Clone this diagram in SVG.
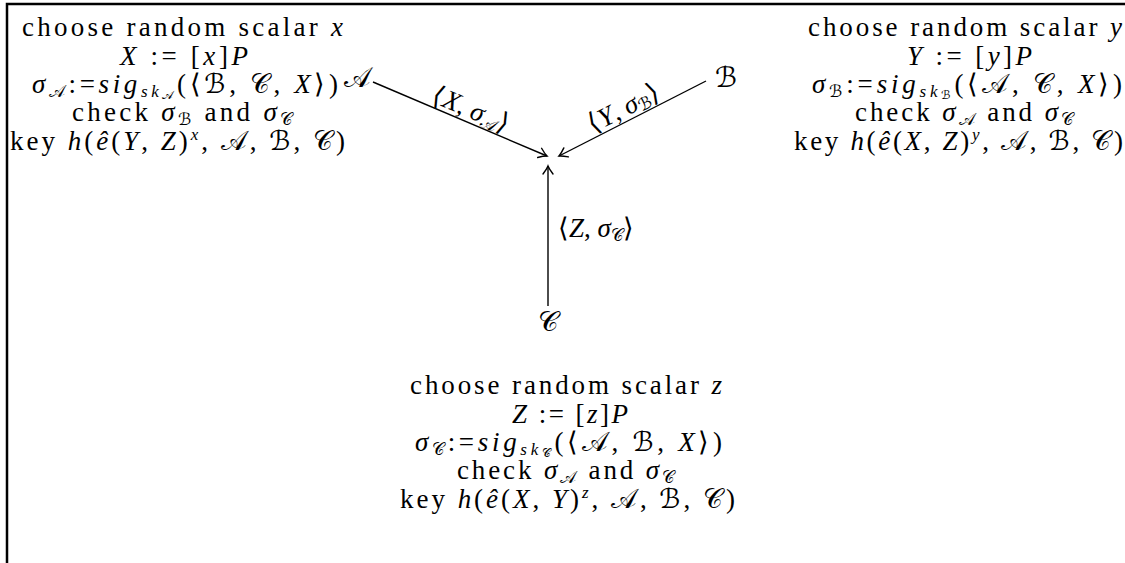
<svg xmlns="http://www.w3.org/2000/svg" width="1125" height="563" viewBox="0 0 1125 563">
<style>
text{font-family:"Liberation Serif","Times New Roman",serif;font-size:27px;fill:#000}
.i{font-style:italic}
.cal{font-family:"DejaVu Serif","DejaVu Sans","Noto Sans",serif;font-style:normal}
.sub{font-size:17px}
.ssub{font-size:12px}
.node{font-size:28px}
.conn line{stroke:#000;stroke-width:1.4;fill:none}
.frame{stroke:#000;stroke-width:2.5;fill:none}
</style>
<defs>
<marker id="ah" markerUnits="userSpaceOnUse" markerWidth="20" markerHeight="20" refX="0" refY="0" viewBox="-10 -10 20 20" orient="auto" overflow="visible">
<path d="M-8,-5 Q-3,-1.2 0,0 Q-3,1.2 -8,5" fill="none" stroke="#000" stroke-width="1.4" stroke-linecap="round"/>
</marker>
</defs>
<rect width="1125" height="563" fill="#fff"/>
<path class="frame" d="M7,563 V4 H1125"/>

<g id="infoA">
<text x="22" y="36" textLength="321">choose random scalar <tspan class="i">x</tspan></text>
<text x="120" y="65" textLength="128"><tspan class="i">X</tspan> := [<tspan class="i">x</tspan>]<tspan class="i">P</tspan></text>
<text x="32" y="93" textLength="306"><tspan class="i">σ</tspan><tspan class="sub cal" dy="4">𝒜</tspan><tspan dy="-4">:=</tspan><tspan class="i">sig</tspan><tspan class="sub i" dy="4">sk</tspan><tspan class="ssub cal" dy="2">𝒜</tspan><tspan dy="-6">(⟨</tspan><tspan class="cal">ℬ</tspan>, <tspan class="cal">𝒞</tspan>, <tspan class="i">X</tspan>⟩)</text>
<text x="72" y="121" textLength="220">check <tspan class="i">σ</tspan><tspan class="sub cal" dy="4">ℬ</tspan><tspan dy="-4"> and </tspan><tspan class="i">σ</tspan><tspan class="sub cal" dy="4">𝒞</tspan></text>
<text x="10" y="150" textLength="335">key <tspan class="i">h</tspan>(<tspan class="i">ê</tspan>(<tspan class="i">Y</tspan>, <tspan class="i">Z</tspan>)<tspan class="sub i" dy="-10">x</tspan><tspan dy="10">, </tspan><tspan class="cal">𝒜</tspan>, <tspan class="cal">ℬ</tspan>, <tspan class="cal">𝒞</tspan>)</text>
</g>

<g id="infoB">
<text x="808" y="36" textLength="314">choose random scalar <tspan class="i">y</tspan></text>
<text x="907" y="65" textLength="125"><tspan class="i">Y</tspan> := [<tspan class="i">y</tspan>]<tspan class="i">P</tspan></text>
<text x="812" y="93" textLength="310"><tspan class="i">σ</tspan><tspan class="sub cal" dy="4">ℬ</tspan><tspan dy="-4">:=</tspan><tspan class="i">sig</tspan><tspan class="sub i" dy="4">sk</tspan><tspan class="ssub cal" dy="2">ℬ</tspan><tspan dy="-6">(⟨</tspan><tspan class="cal">𝒜</tspan>, <tspan class="cal">𝒞</tspan>, <tspan class="i">X</tspan>⟩)</text>
<text x="855" y="121" textLength="218">check <tspan class="i">σ</tspan><tspan class="sub cal" dy="4">𝒜</tspan><tspan dy="-4"> and </tspan><tspan class="i">σ</tspan><tspan class="sub cal" dy="4">𝒞</tspan></text>
<text x="794" y="150" textLength="329">key <tspan class="i">h</tspan>(<tspan class="i">ê</tspan>(<tspan class="i">X</tspan>, <tspan class="i">Z</tspan>)<tspan class="sub i" dy="-10">y</tspan><tspan dy="10">, </tspan><tspan class="cal">𝒜</tspan>, <tspan class="cal">ℬ</tspan>, <tspan class="cal">𝒞</tspan>)</text>
</g>

<g id="infoC">
<text x="410" y="394" textLength="312">choose random scalar <tspan class="i">z</tspan></text>
<text x="512" y="423" textLength="116"><tspan class="i">Z</tspan> := [<tspan class="i">z</tspan>]<tspan class="i">P</tspan></text>
<text x="415" y="451" textLength="307"><tspan class="i">σ</tspan><tspan class="sub cal" dy="4">𝒞</tspan><tspan dy="-4">:=</tspan><tspan class="i">sig</tspan><tspan class="sub i" dy="4">sk</tspan><tspan class="ssub cal" dy="2">𝒞</tspan><tspan dy="-6">(⟨</tspan><tspan class="cal">𝒜</tspan>, <tspan class="cal">ℬ</tspan>, <tspan class="i">X</tspan>⟩)</text>
<text x="457" y="479" textLength="217">check <tspan class="i">σ</tspan><tspan class="sub cal" dy="4">𝒜</tspan><tspan dy="-4"> and </tspan><tspan class="i">σ</tspan><tspan class="sub cal" dy="4">𝒞</tspan></text>
<text x="400" y="508" textLength="335">key <tspan class="i">h</tspan>(<tspan class="i">ê</tspan>(<tspan class="i">X</tspan>, <tspan class="i">Y</tspan>)<tspan class="sub i" dy="-10">z</tspan><tspan dy="10">, </tspan><tspan class="cal">𝒜</tspan>, <tspan class="cal">ℬ</tspan>, <tspan class="cal">𝒞</tspan>)</text>
</g>

<g id="nodeA"><text class="node cal" x="357" y="87" text-anchor="middle">𝒜</text></g>
<g id="nodeB"><text class="node cal" x="726" y="87" text-anchor="middle">ℬ</text></g>
<g id="nodeC"><text class="node cal" x="548" y="331" text-anchor="middle">𝒞</text></g>

<g id="connectors" class="conn">
<line x1="373" y1="82" x2="547" y2="156" marker-end="url(#ah)"/>
<line x1="706" y1="81" x2="559" y2="156" marker-end="url(#ah)"/>
<line x1="548" y1="306" x2="548" y2="166" marker-end="url(#ah)"/>
<g transform="translate(466,122) rotate(22.9)"><text x="0" y="-5" text-anchor="middle">⟨<tspan class="i">X</tspan>, <tspan class="i">σ</tspan><tspan class="sub cal" dy="4">𝒜</tspan><tspan dy="-4">⟩</tspan></text></g>
<g transform="translate(630,120) rotate(-27)"><text x="0" y="-5" text-anchor="middle">⟨<tspan class="i">Y</tspan>, <tspan class="i">σ</tspan><tspan class="sub cal" dy="3">ℬ</tspan><tspan dy="-3">⟩</tspan></text></g>
<text x="558" y="237">⟨<tspan class="i">Z</tspan>, <tspan class="i">σ</tspan><tspan class="sub cal" dy="4">𝒞</tspan><tspan dy="-4">⟩</tspan></text>
</g>
</svg>
